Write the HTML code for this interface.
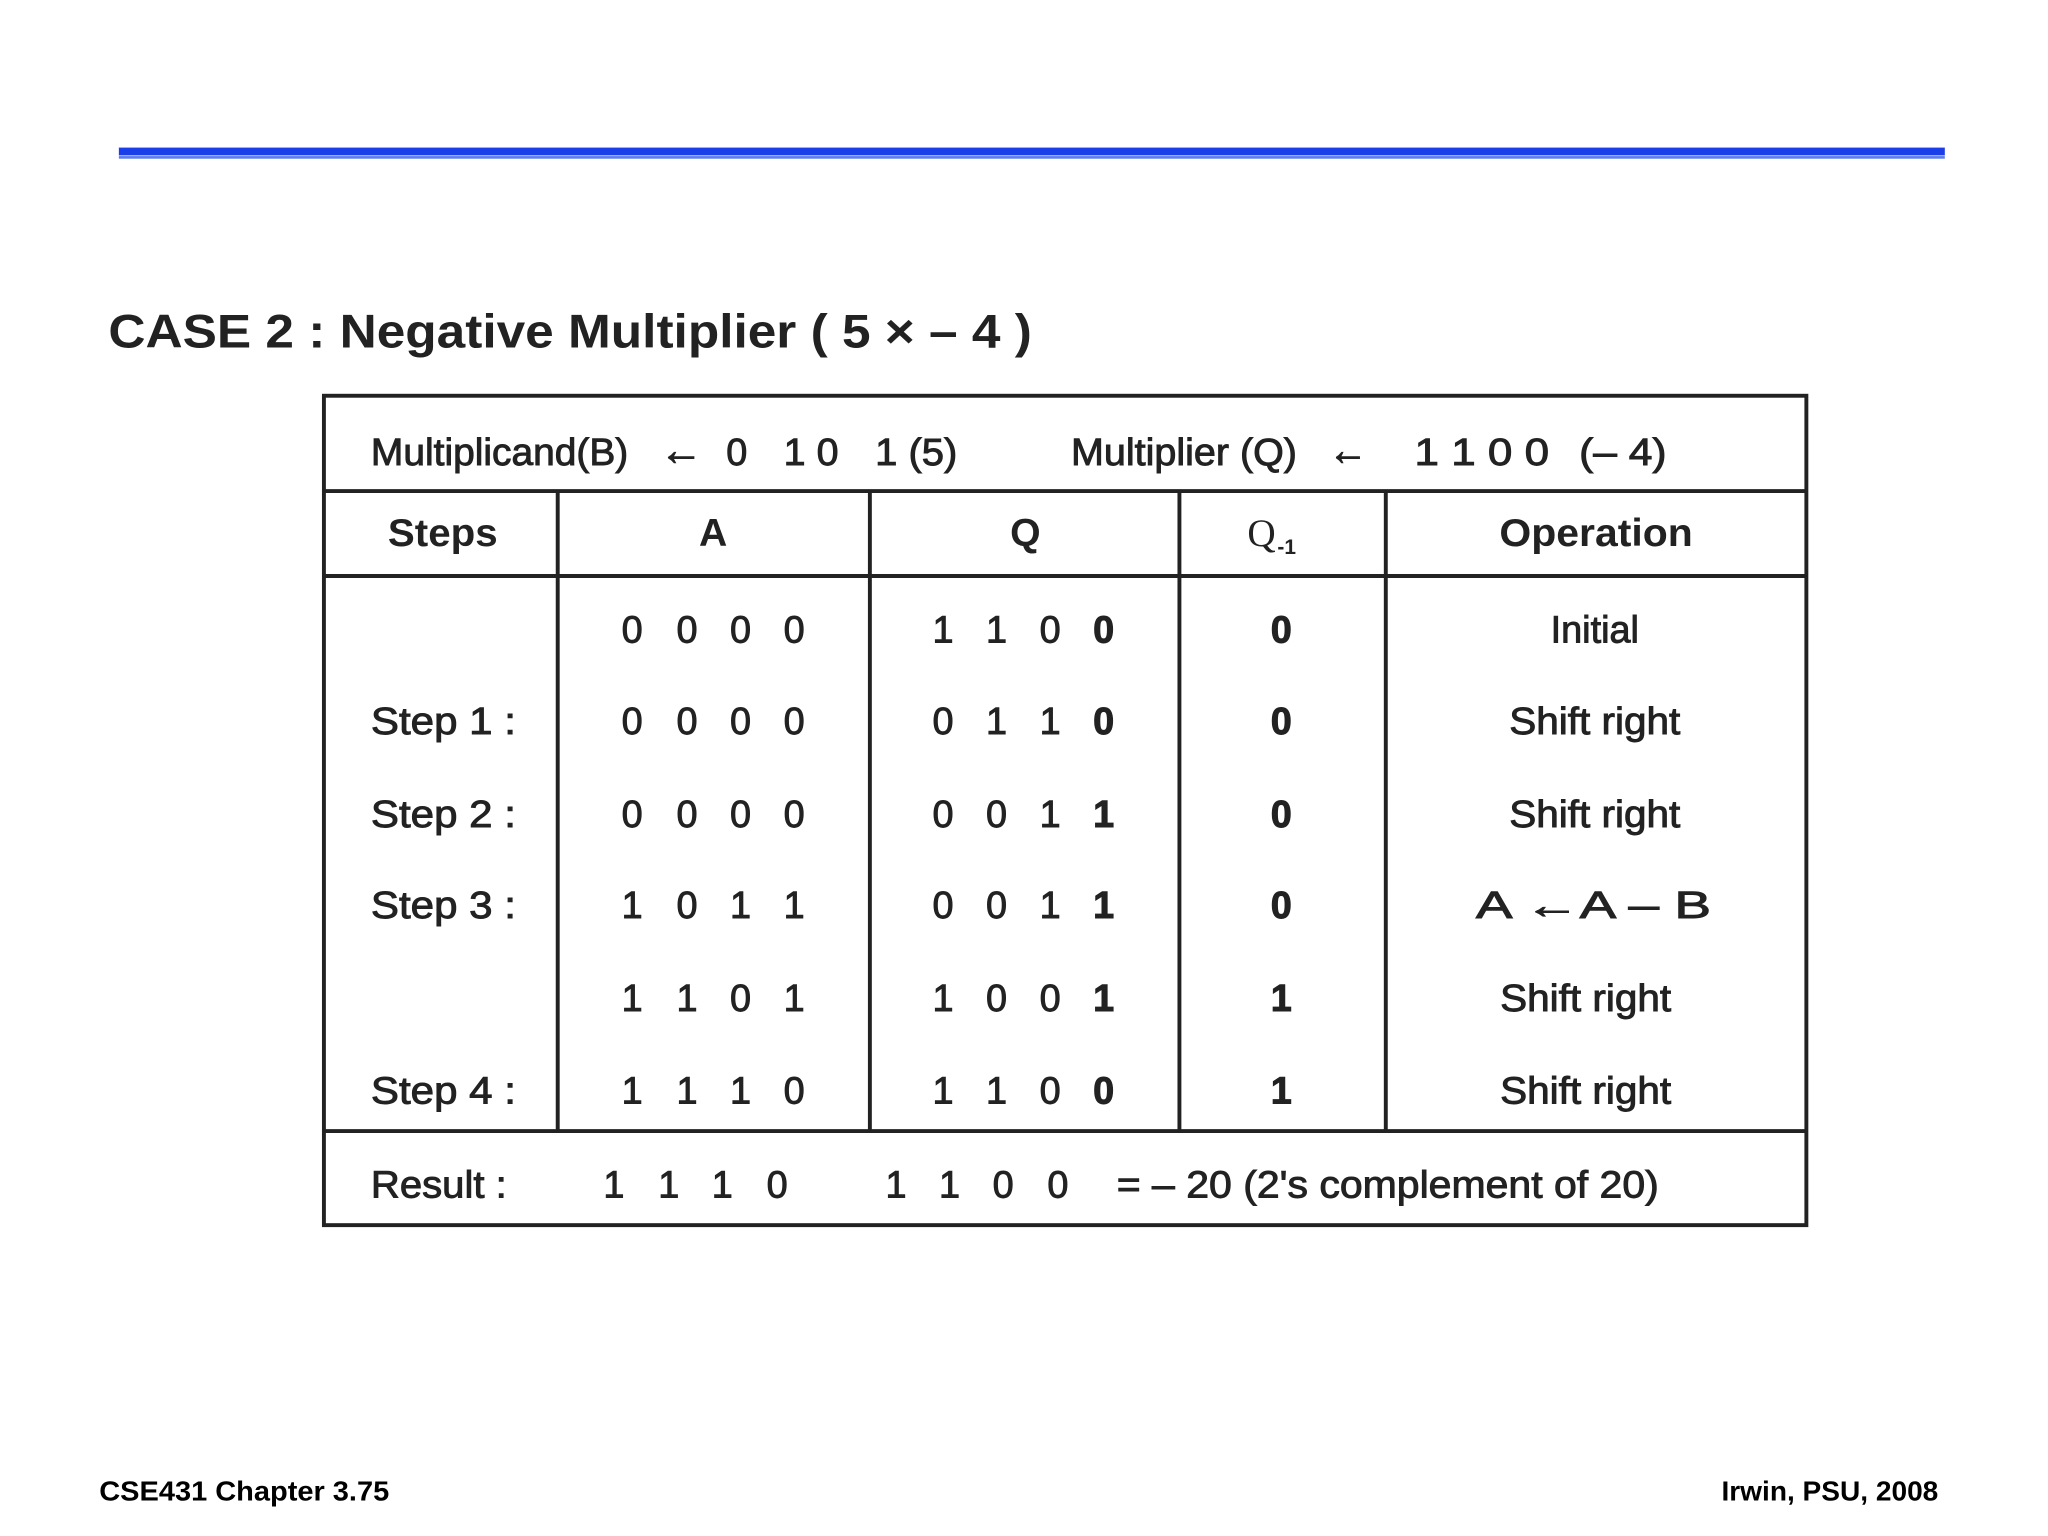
<!DOCTYPE html>
<html><head><meta charset="utf-8"><style>html,body{margin:0;padding:0;background:#fff}svg{display:block}</style></head>
<body>
<svg width="2048" height="1536" viewBox="0 0 1568 1176" xmlns="http://www.w3.org/2000/svg" font-family="Liberation Sans, sans-serif" fill="#222">
<rect x="91" y="113" width="1398" height="6" fill="#1a3ee8"/>
<rect x="91" y="119.5" width="1398" height="2" fill="#5b7cf0"/>
<text x="83" y="266" font-size="36" font-weight="bold" textLength="707" lengthAdjust="spacingAndGlyphs">CASE 2 : Negative Multiplier ( 5 × – 4 )</text>
<g stroke="#222" stroke-width="3" fill="none">
<rect x="248" y="303" width="1135" height="635"/>
<line x1="248" y1="376" x2="1383" y2="376"/>
<line x1="248" y1="441" x2="1383" y2="441"/>
<line x1="248" y1="866" x2="1383" y2="866"/>
<line x1="427" y1="376" x2="427" y2="866"/>
<line x1="666" y1="376" x2="666" y2="866"/>
<line x1="903" y1="376" x2="903" y2="866"/>
<line x1="1061" y1="376" x2="1061" y2="866"/>
</g>
<g stroke="#222" stroke-width="0.7">
<g font-size="29">
<text x="284" y="356" textLength="197" lengthAdjust="spacingAndGlyphs">Multiplicand(B)</text>
<text x="505" y="356" font-size="34" textLength="33" lengthAdjust="spacingAndGlyphs">←</text>
<text x="556" y="356">0</text>
<text x="600" y="356" textLength="42" lengthAdjust="spacingAndGlyphs">1 0</text>
<text x="670" y="356" textLength="63" lengthAdjust="spacingAndGlyphs">1 (5)</text>
<text x="820" y="356" textLength="173" lengthAdjust="spacingAndGlyphs">Multiplier (Q)</text>
<text x="1017" y="356" font-size="34" textLength="30" lengthAdjust="spacingAndGlyphs">←</text>
<text x="1083" y="356" textLength="103" lengthAdjust="spacingAndGlyphs">1 1 0 0</text>
<text x="1209" y="356" textLength="67" lengthAdjust="spacingAndGlyphs">(– 4)</text>
</g>
<g font-size="29" text-anchor="middle">
<text x="484" y="492">0</text><text x="526" y="492">0</text><text x="567" y="492">0</text><text x="608" y="492">0</text>
<text x="722" y="492">1</text><text x="763" y="492">1</text><text x="804" y="492">0</text><text x="845" y="492" font-weight="bold">0</text>
<text x="981" y="492" font-weight="bold">0</text>
<text x="484" y="562">0</text><text x="526" y="562">0</text><text x="567" y="562">0</text><text x="608" y="562">0</text>
<text x="722" y="562">0</text><text x="763" y="562">1</text><text x="804" y="562">1</text><text x="845" y="562" font-weight="bold">0</text>
<text x="981" y="562" font-weight="bold">0</text>
<text x="484" y="633">0</text><text x="526" y="633">0</text><text x="567" y="633">0</text><text x="608" y="633">0</text>
<text x="722" y="633">0</text><text x="763" y="633">0</text><text x="804" y="633">1</text><text x="845" y="633" font-weight="bold">1</text>
<text x="981" y="633" font-weight="bold">0</text>
<text x="484" y="703">1</text><text x="526" y="703">0</text><text x="567" y="703">1</text><text x="608" y="703">1</text>
<text x="722" y="703">0</text><text x="763" y="703">0</text><text x="804" y="703">1</text><text x="845" y="703" font-weight="bold">1</text>
<text x="981" y="703" font-weight="bold">0</text>
<text x="484" y="774">1</text><text x="526" y="774">1</text><text x="567" y="774">0</text><text x="608" y="774">1</text>
<text x="722" y="774">1</text><text x="763" y="774">0</text><text x="804" y="774">0</text><text x="845" y="774" font-weight="bold">1</text>
<text x="981" y="774" font-weight="bold">1</text>
<text x="484" y="845">1</text><text x="526" y="845">1</text><text x="567" y="845">1</text><text x="608" y="845">0</text>
<text x="722" y="845">1</text><text x="763" y="845">1</text><text x="804" y="845">0</text><text x="845" y="845" font-weight="bold">0</text>
<text x="981" y="845" font-weight="bold">1</text>
<text x="1221" y="492">Initial</text>
<text x="1221" y="562" textLength="131" lengthAdjust="spacingAndGlyphs">Shift right</text>
<text x="1221" y="633" textLength="131" lengthAdjust="spacingAndGlyphs">Shift right</text>
<text x="1220" y="703" textLength="180" lengthAdjust="spacingAndGlyphs">A  ←A –  B</text>
<text x="1214" y="774" textLength="131" lengthAdjust="spacingAndGlyphs">Shift right</text>
<text x="1214" y="845" textLength="131" lengthAdjust="spacingAndGlyphs">Shift right</text>
<text x="470" y="917">1</text><text x="512" y="917">1</text><text x="553" y="917">1</text><text x="595" y="917">0</text>
<text x="686" y="917">1</text><text x="727" y="917">1</text><text x="768" y="917">0</text><text x="810" y="917">0</text>
</g>
<g font-size="29">
<text x="284" y="562" textLength="111" lengthAdjust="spacingAndGlyphs">Step 1 :</text>
<text x="284" y="633" textLength="111" lengthAdjust="spacingAndGlyphs">Step 2 :</text>
<text x="284" y="703" textLength="111" lengthAdjust="spacingAndGlyphs">Step 3 :</text>
<text x="284" y="845" textLength="111" lengthAdjust="spacingAndGlyphs">Step 4 :</text>
<text x="284" y="917" textLength="104" lengthAdjust="spacingAndGlyphs">Result :</text>
<text x="855" y="917" textLength="415" lengthAdjust="spacingAndGlyphs">= – 20 (2's complement of 20)</text>
</g>
</g>
<g font-size="30" font-weight="bold">
<text x="297" y="418" textLength="84" lengthAdjust="spacingAndGlyphs">Steps</text>
<text x="546" y="418" text-anchor="middle">A</text>
<text x="785" y="418" text-anchor="middle">Q</text>
<text x="1148" y="418" textLength="148" lengthAdjust="spacingAndGlyphs">Operation</text>
</g>
<text x="955" y="418" font-size="30" font-family="Liberation Serif, serif">Q</text>
<text x="978" y="424" font-size="16" font-weight="bold">-1</text>
<text x="76" y="1149" font-size="21" font-weight="bold" fill="#000" textLength="222" lengthAdjust="spacingAndGlyphs">CSE431  Chapter 3.75</text>
<text x="1318" y="1149" font-size="21" font-weight="bold" fill="#000" textLength="166" lengthAdjust="spacingAndGlyphs">Irwin, PSU, 2008</text>
</svg>
</body></html>
